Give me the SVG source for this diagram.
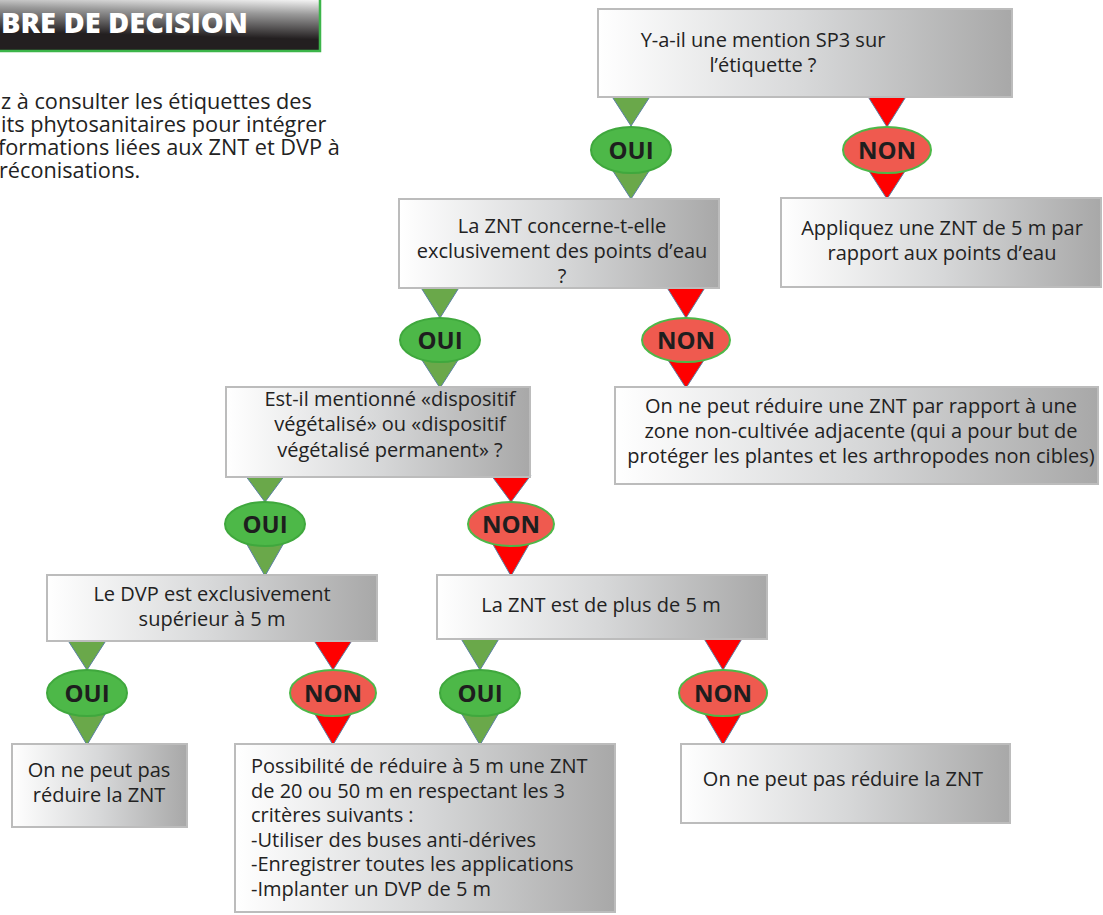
<svg xmlns="http://www.w3.org/2000/svg" width="1103" height="915" viewBox="0 0 1103 915">
<defs>
<linearGradient id="boxg" x1="0" y1="0" x2="1" y2="0">
<stop offset="0" stop-color="#ffffff"/>
<stop offset="0.5" stop-color="#d7d8d9"/>
<stop offset="1" stop-color="#a8a8a8"/>
</linearGradient>
<linearGradient id="bang" x1="0.85" y1="0" x2="0.7" y2="1">
<stop offset="0" stop-color="#ffffff"/>
<stop offset="0.3" stop-color="#9a9a9a"/>
<stop offset="0.75" stop-color="#231f20"/>
<stop offset="1" stop-color="#231f20"/>
</linearGradient>
</defs>
<style>
.box{fill:url(#boxg);stroke:#bcbcbc;stroke-width:2}
.t{font-family:"Open Sans","Noto Sans","Liberation Sans",sans-serif;font-size:20px;fill:#222}
.c{text-anchor:middle}
.oui{fill:#4db848;stroke:#3fa83d;stroke-width:2}
.non{fill:#ef5a4f;stroke:#4db848;stroke-width:2}
.lab{font-family:"Open Sans","Noto Sans","Liberation Sans",sans-serif;font-size:24px;font-weight:700;fill:#1e1e1e;text-anchor:middle}
.tg{fill:#6aa84a;stroke:#5a7fa3;stroke-width:1}
.tr{fill:#ff0000;stroke:#5a7fa3;stroke-width:1}
</style>
<rect width="1103" height="915" fill="#ffffff"/>

<g id="title">
<rect x="-3" y="-3" width="323" height="54" fill="url(#bang)" stroke="#3cb54a" stroke-width="2.5"/>
<text x="1" y="33" textLength="247" lengthAdjust="spacingAndGlyphs" style="font-family:'Open Sans','Noto Sans',sans-serif;font-size:28px;font-weight:800;fill:#ffffff">BRE DE DECISION</text>
</g>

<g id="intro">
<text class="t" style="font-size:21.7px"><tspan x="1" y="109">z à consulter les étiquettes des</tspan><tspan x="1" y="132">its phytosanitaires pour intégrer</tspan><tspan x="-2" y="155">formations liées aux ZNT et DVP à</tspan><tspan x="-1" y="178">réconisations.</tspan></text>
</g>

<g id="connectors">
<polygon class="tg" points="611,95 651,95 631,126"/>
<polygon class="tr" points="867,95 907,95 887,127"/>
<polygon class="tg" points="611,168 651,168 631,199"/>
<polygon class="tr" points="867,168 907,168 887,199"/>
<polygon class="tg" points="420,286 460,286 440,318"/>
<polygon class="tr" points="666,286 706,286 686,318"/>
<polygon class="tg" points="420,357 460,357 440,388"/>
<polygon class="tr" points="666,357 706,357 686,388"/>
<polygon class="tg" points="245,475 285,475 265,502"/>
<polygon class="tr" points="491,475 531,475 511,502"/>
<polygon class="tg" points="245,541 285,541 265,576"/>
<polygon class="tr" points="491,541 531,541 511,576"/>
<polygon class="tg" points="67,639 107,639 87,670"/>
<polygon class="tr" points="313,639 353,639 333,670"/>
<polygon class="tg" points="460,637 500,637 480,670"/>
<polygon class="tr" points="703,637 743,637 723,670"/>
<polygon class="tg" points="67,711 107,711 87,745"/>
<polygon class="tr" points="313,711 353,711 333,745"/>
<polygon class="tg" points="460,711 500,711 480,745"/>
<polygon class="tr" points="703,711 743,711 723,745"/>
</g>

<g id="q1">
<rect class="box" x="598" y="9" width="414" height="88"/>
<text class="t c"><tspan x="763" y="47">Y-a-il une mention SP3 sur</tspan><tspan x="763" y="72">l’étiquette ?</tspan></text>
</g>
<g id="oui1"><ellipse class="oui" cx="631" cy="150" rx="40" ry="23"/><text class="lab" x="631" y="159">OUI</text></g>
<g id="non1"><ellipse class="non" cx="887" cy="150" rx="44" ry="23"/><text class="lab" x="887" y="159">NON</text></g>

<g id="r1">
<rect class="box" x="781" y="198" width="320" height="89"/>
<text class="t c"><tspan x="942" y="235">Appliquez une ZNT de 5 m par</tspan><tspan x="942" y="260">rapport aux points d’eau</tspan></text>
</g>

<g id="q2">
<rect class="box" x="399" y="199" width="320" height="89"/>
<text class="t c"><tspan x="562" y="233">La ZNT concerne-t-elle</tspan><tspan x="562" y="258">exclusivement des points d’eau</tspan><tspan x="562" y="283">?</tspan></text>
</g>
<g id="oui2"><ellipse class="oui" cx="440" cy="340" rx="40" ry="22"/><text class="lab" x="440" y="349">OUI</text></g>
<g id="non2"><ellipse class="non" cx="686" cy="340" rx="44" ry="22"/><text class="lab" x="686" y="349">NON</text></g>

<g id="r2">
<rect class="box" x="615" y="387" width="483" height="97"/>
<text class="t c"><tspan x="861" y="413">On ne peut réduire une ZNT par rapport à une</tspan><tspan x="861" y="438">zone non-cultivée adjacente (qui a pour but de</tspan><tspan x="861" y="463">protéger les plantes et les arthropodes non cibles)</tspan></text>
</g>

<g id="q3">
<rect class="box" x="226" y="387" width="304" height="90"/>
<text class="t c"><tspan x="390" y="406">Est-il mentionné «dispositif</tspan><tspan x="390" y="431">végétalisé» ou «dispositif</tspan><tspan x="390" y="457">végétalisé permanent» ?</tspan></text>
</g>
<g id="oui3"><ellipse class="oui" cx="265" cy="524" rx="40" ry="22"/><text class="lab" x="265" y="533">OUI</text></g>
<g id="non3"><ellipse class="non" cx="511" cy="524" rx="43" ry="22"/><text class="lab" x="511" y="533">NON</text></g>

<g id="q4">
<rect class="box" x="47" y="575" width="330" height="66"/>
<text class="t c"><tspan x="212" y="601">Le DVP est exclusivement</tspan><tspan x="212" y="626">supérieur à 5 m</tspan></text>
</g>
<g id="q5">
<rect class="box" x="437" y="575" width="330" height="64"/>
<text class="t c" x="601" y="612">La ZNT est de plus de 5 m</text>
</g>
<g id="oui4"><ellipse class="oui" cx="87" cy="693" rx="40" ry="23"/><text class="lab" x="87" y="702">OUI</text></g>
<g id="non4"><ellipse class="non" cx="333" cy="693" rx="43" ry="23"/><text class="lab" x="333" y="702">NON</text></g>
<g id="oui5"><ellipse class="oui" cx="480" cy="693" rx="40" ry="23"/><text class="lab" x="480" y="702">OUI</text></g>
<g id="non5"><ellipse class="non" cx="723" cy="693" rx="44" ry="23"/><text class="lab" x="723" y="702">NON</text></g>

<g id="r3">
<rect class="box" x="12" y="744" width="175" height="83"/>
<text class="t c"><tspan x="99" y="777">On ne peut pas</tspan><tspan x="99" y="802">réduire la ZNT</tspan></text>
</g>
<g id="r4">
<rect class="box" x="235" y="744" width="380" height="168"/>
<text class="t"><tspan x="251" y="773">Possibilité de réduire à 5 m une ZNT</tspan><tspan x="251" y="797.5">de 20 ou 50 m en respectant les 3</tspan><tspan x="251" y="822">critères suivants :</tspan><tspan x="251" y="846.5">-Utiliser des buses anti-dérives</tspan><tspan x="251" y="871">-Enregistrer toutes les applications</tspan><tspan x="251" y="895.5">-Implanter un DVP de 5 m</tspan></text>
</g>
<g id="r5">
<rect class="box" x="681" y="744" width="329" height="79"/>
<text class="t c" x="843" y="786">On ne peut pas réduire la ZNT</text>
</g>
</svg>
